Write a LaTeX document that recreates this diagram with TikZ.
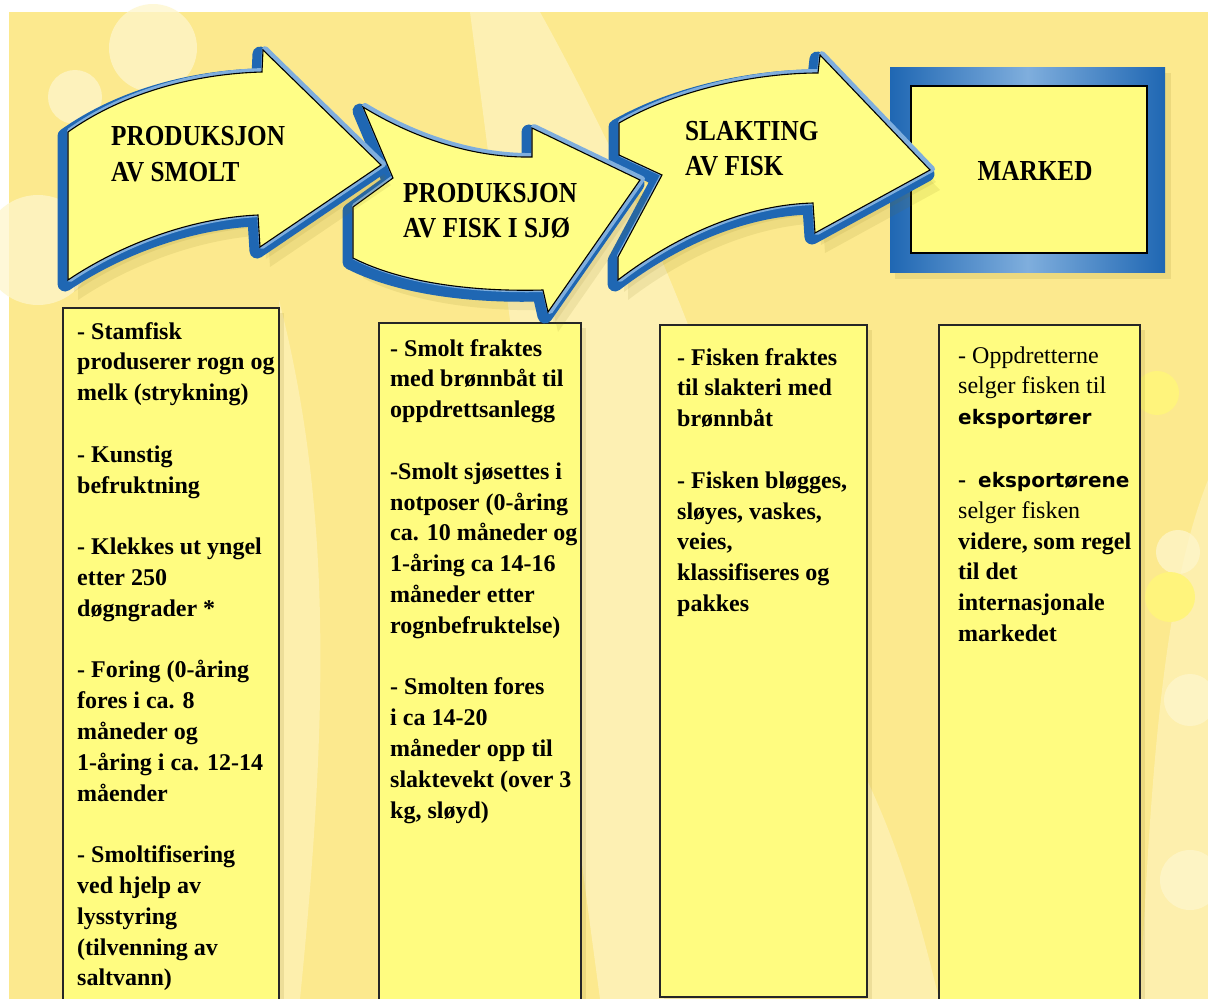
\documentclass[tikz,border=0pt]{standalone}
\usepackage{fontspec}
\setmainfont{Liberation Serif}
\newfontfamily\headfont{Liberation Serif}[FakeStretch=0.87]
\newfontfamily\sansbold{DejaVu Sans Bold}
\definecolor{bgyellow}{HTML}{FCE98E}
\definecolor{bglight}{HTML}{FEF6CC}
\definecolor{spotyellow}{HTML}{FFF47C}
\definecolor{boxyellow}{HTML}{FFFC80}
\definecolor{arrowyellow}{HTML}{FFFE86}
\definecolor{blueA}{HTML}{1F67B3}
\definecolor{blueB}{HTML}{7FAEDD}
\definecolor{shadowol}{HTML}{7A6A10}
\newcommand\pathArrowA{(68,132) .. controls (120,95) and (190,74) .. (262,72) -- (263,50) -- (381,165) -- (260,247) -- (258,215) .. controls (190,218) and (120,245) .. (68,280) -- cycle}
\newcommand\pathArrowB{(363,107) .. controls (420,142) and (480,158) .. (532,157) -- (532,128) -- (640,180) -- (548,312) -- (543,290) .. controls (470,292) and (400,282) .. (353,258) -- (353,207) -- (393,178) -- cycle}
\newcommand\pathArrowC{(619,123) .. controls (680,88) and (760,73) .. (818,73) -- (820,55) -- (930,170) -- (815,233) -- (813,203) .. controls (740,205) and (670,240) .. (618,280) -- (618,257) -- (662,175) -- (619,155) -- cycle}
\begin{document}
\begin{tikzpicture}[x=1pt,y=-1pt,
  arrowblue/.style={draw=blueA, line width=15pt, line join=round},
  arrowlight/.style={draw=blueB, line width=6pt, line join=round},
  arrowface/.style={fill=arrowyellow, draw=black, line width=1.1pt, line join=miter},
  arrowshade/.style={fill=shadowol, opacity=0.10},
  infobox/.style={fill=boxyellow, draw=black!85, line width=1.3pt},
  bodytext/.style={anchor=north west, inner sep=0pt, align=left, font=\fontsize{24}{30.8}\selectfont\bfseries},
  headtext/.style={anchor=base west, inner sep=0pt, font=\headfont\fontsize{29}{35}\selectfont\bfseries},
  spot/.style={fill=bglight, opacity=0.75}]
\useasboundingbox (0,0) rectangle (1208,999);
\clip (0,0) rectangle (1208,999);
\fill[white] (0,0) rectangle (1208,999);
% background
\fill[bgyellow] (9,12) rectangle (1208,999);
\fill[bglight, opacity=0.6] (540,12) .. controls (600,120) and (660,250) .. (690,330) -- (700,999) -- (600,999) .. controls (560,700) and (520,400) .. (470,12) -- cycle;
\fill[bglight, opacity=0.5] (279,300) .. controls (330,500) and (330,700) .. (300,999) -- (279,999) -- cycle;
\fill[bglight, opacity=0.5] (1208,480) .. controls (1160,600) and (1150,800) .. (1140,999) -- (1208,999) -- cycle;
\fill[bglight, opacity=0.5] (867,780) .. controls (900,850) and (920,920) .. (939,999) -- (867,999) -- cycle;
\fill[spot] (153,48) circle (44);
\fill[spot] (75,97) circle (27);
\fill[spot] (38,250) circle (55);
\fill[spot] (1178,552) circle (22);
\fill[spot] (1190,700) circle (26);
\fill[spot] (1190,880) circle (30);
\fill[spotyellow] (1157,393) circle (22);
\fill[spotyellow] (1170,597) circle (25);
% boxes
\fill[shadowol, opacity=0.12] (67,313) rectangle (284,1004);
\fill[shadowol, opacity=0.12] (383,328) rectangle (586,1004);
\fill[shadowol, opacity=0.12] (664,330) rectangle (872,1002);
\fill[shadowol, opacity=0.12] (943,330) rectangle (1145,1004);
\draw[infobox] (63,308) rectangle (279,1003);
\draw[infobox] (379,323) rectangle (581,1003);
\draw[infobox] (660,325) rectangle (867,997);
\draw[infobox] (939,325) rectangle (1140,1003);
% market frame
\fill[shadowol, opacity=0.12] (895,73) rectangle (1171,279);
\shade[left color=blueA, right color=blueA, middle color=blueB] (890,67) rectangle (1165,272);
\draw[fill=boxyellow, draw=black, line width=1.3pt] (911,86) rectangle (1147,253);
% arrow 3
\begin{scope}[shift={(6,12)}]\fill[arrowshade] \pathArrowC;\end{scope}
\begin{scope}[shift={(10,20)}]\fill[arrowshade] \pathArrowC;\end{scope}
\begin{scope}[shift={(-3,4)}]\draw[arrowblue] \pathArrowC;\end{scope}
\begin{scope}[shift={(2,-1)}]\draw[arrowlight] \pathArrowC;\end{scope}
\draw[arrowface] \pathArrowC;
% arrow 2
\begin{scope}[shift={(6,12)}]\fill[arrowshade] \pathArrowB;\end{scope}
\begin{scope}[shift={(10,20)}]\fill[arrowshade] \pathArrowB;\end{scope}
\begin{scope}[shift={(-3,4)}]\draw[arrowblue] \pathArrowB;\end{scope}
\begin{scope}[shift={(2,-1)}]\draw[arrowlight] \pathArrowB;\end{scope}
\draw[arrowface] \pathArrowB;
% arrow 1
\begin{scope}[shift={(6,12)}]\fill[arrowshade] \pathArrowA;\end{scope}
\begin{scope}[shift={(10,20)}]\fill[arrowshade] \pathArrowA;\end{scope}
\begin{scope}[shift={(-3,4)}]\draw[arrowblue] \pathArrowA;\end{scope}
\begin{scope}[shift={(2,-1)}]\draw[arrowlight] \pathArrowA;\end{scope}
\draw[arrowface] \pathArrowA;
% headings
\node[headtext] (h1a) at (111,145) {PRODUKSJON};
\node[headtext] (h1b) at (111,181) {AV SMOLT};
\node[headtext] (h2a) at (403,202) {PRODUKSJON};
\node[headtext] (h2b) at (403,237) {AV FISK I SJØ};
\node[headtext] (h3a) at (685,140) {SLAKTING};
\node[headtext] (h3b) at (685,175) {AV FISK};
\node[headtext, anchor=base] (h4) at (1035,180) {MARKED};
% body texts
\node[bodytext] (t1) at (77,317.4) {\strut- Stamfisk\\ produserer rogn og\\ melk (strykning)\\[30.8pt]
- Kunstig\\ befruktning\\[30.8pt]
- Klekkes ut yngel\\ etter 250\\ døgngrader *\\[30.8pt]
- Foring (0-åring\\ fores i ca. 8\\ måneder og\\ 1-åring i ca. 12-14\\ måender\\[30.8pt]
- Smoltifisering\\ ved hjelp av\\ lysstyring\\ (tilvenning av\\ saltvann)};
\node[bodytext] (t2) at (390,334.4) {\strut- Smolt fraktes\\ med brønnbåt til\\ oppdrettsanlegg\\[30.8pt]
-Smolt sjøsettes i\\ notposer (0-åring\\ ca. 10 måneder og\\ 1-åring ca 14-16\\ måneder etter\\ rognbefruktelse)\\[30.8pt]
- Smolten fores\\ i ca 14-20\\ måneder opp til\\ slaktevekt (over 3\\ kg, sløyd)};
\node[bodytext] (t3) at (677,343.4) {\strut- Fisken fraktes\\ til slakteri med\\ brønnbåt\\[30.8pt]
- Fisken bløgges,\\ sløyes, vaskes,\\ veies,\\ klassifiseres og\\ pakkes};
\node[bodytext] (t4) at (958,341.4) {\strut{\mdseries - Oppdretterne}\\ {\mdseries selger fisken til}\\ {\sansbold\fontsize{20}{30.8}\selectfont eksportører}\\[32pt]
-~~{\sansbold\fontsize{20}{30.8}\selectfont eksportørene}\\ {\mdseries selger fisken}\\ videre, som regel\\ til det\\ internasjonale\\ markedet};
\end{tikzpicture}
\end{document}
